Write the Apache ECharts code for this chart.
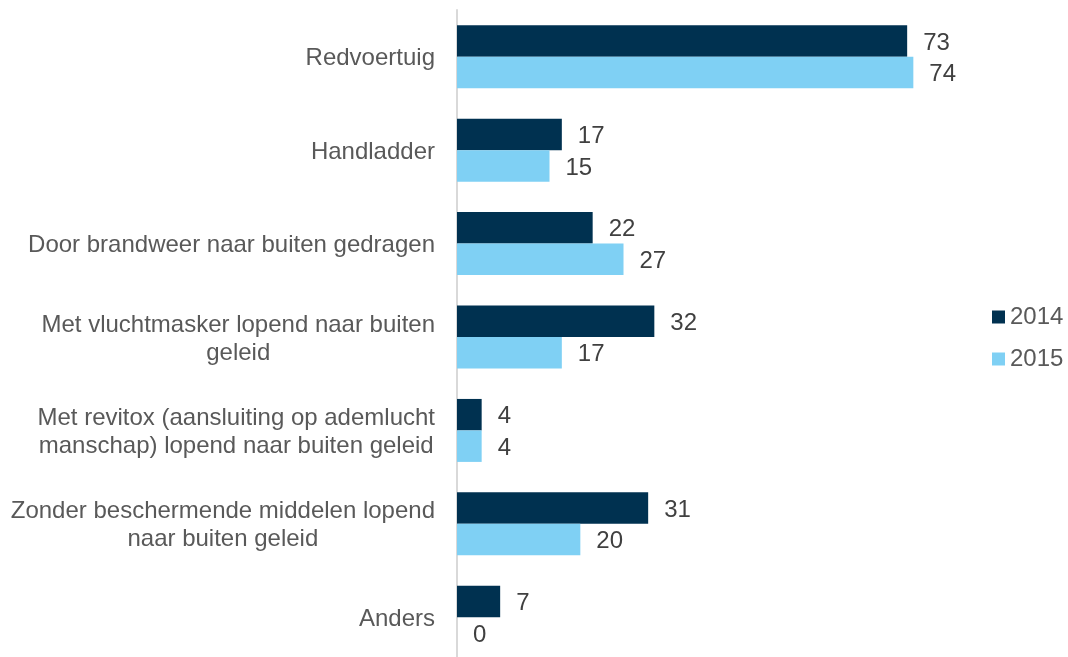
<!DOCTYPE html>
<html>
<head>
<meta charset="utf-8">
<script src="https://cdn.jsdelivr.net/npm/echarts@6/dist/echarts.min.js"></script>
<style>
  html, body { margin: 0; padding: 0; background: #ffffff; }
  #chart { width: 1068px; height: 657px; }
</style>
</head>
<body>
<div id="chart"></div>
<script>
// Wijze van ontvluchting, 2014 vs 2015
const categories = [
  'Redvoertuig',
  'Handladder',
  'Door brandweer naar buiten gedragen',
  'Met vluchtmasker lopend naar buiten\ngeleid',
  'Met revitox (aansluiting op ademlucht\nmanschap) lopend naar buiten geleid',
  'Zonder beschermende middelen lopend\nnaar buiten geleid',
  'Anders'
];
const values2014 = [73, 17, 22, 32, 4, 31, 7];
const values2015 = [74, 15, 27, 17, 4, 20, 0];
const seriesNames = ['2014', '2015'];

const FONT = 'Liberation Sans, Arial, sans-serif';

const chart = echarts.init(document.getElementById('chart'), null, { renderer: 'canvas' });

const labelStyle = {
  show: true,
  position: 'right',
  distance: 16,
  offset: [0, 2],
  color: '#404040',
  fontFamily: FONT,
  fontSize: 24
};

chart.setOption({
  animation: false,
  backgroundColor: '#ffffff',
  grid: { left: 457, top: 10, width: 555, height: 654, outerBoundsMode: 'none', containLabel: false },
  legend: {
    orient: 'vertical',
    left: 987,
    top: 300,
    itemWidth: 13,
    itemHeight: 13,
    itemGap: 18,
    icon: 'rect',
    textStyle: { color: '#595959', fontFamily: FONT, fontSize: 24 },
    data: seriesNames
  },
  xAxis: { type: 'value', min: 0, max: 90, show: false },
  yAxis: {
    type: 'category',
    inverse: true,
    data: categories,
    axisLine: { show: true, lineStyle: { color: '#d9d9d9', width: 2 } },
    axisTick: { show: false },
    axisLabel: {
      margin: 22,
      align: 'right',
      padding: [4, 0, 0, 0],
      // each line is centred within the label block, block sits right of the axis gap
      formatter: v => v.split('\n').map(line => '{c|' + line + '}').join('\n'),
      rich: {
        c: {
          align: 'center',
          color: '#595959',
          fontFamily: FONT,
          fontSize: 24,
          lineHeight: 28
        }
      }
    }
  },
  series: [
    {
      name: seriesNames[0],
      type: 'bar',
      data: values2014,
      itemStyle: { color: '#003150' },
      barGap: '0%',
      barCategoryGap: '32.6%',
      label: labelStyle
    },
    {
      name: seriesNames[1],
      type: 'bar',
      data: values2015,
      itemStyle: { color: '#7fd0f4' },
      barGap: '0%',
      barCategoryGap: '32.6%',
      label: labelStyle
    }
  ]
});
</script>
</body>
</html>
